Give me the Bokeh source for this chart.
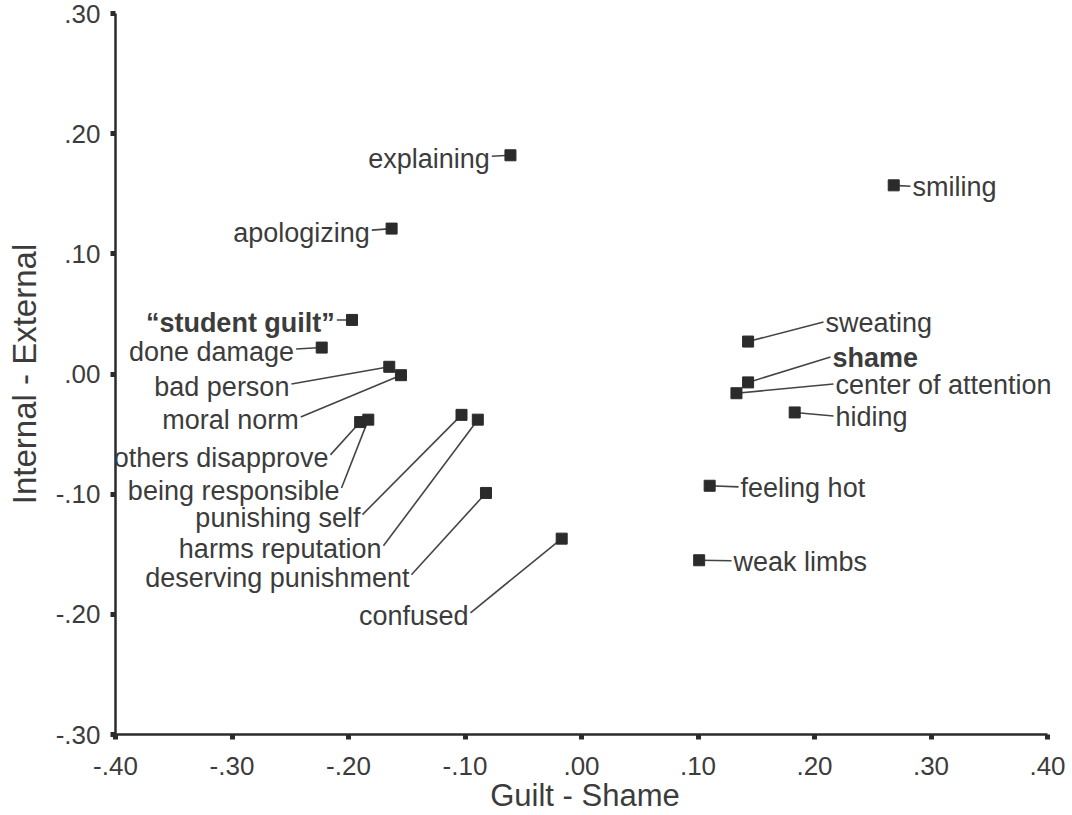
from bokeh.plotting import figure
from bokeh.models import Range1d, FixedTicker, CustomJSTickFormatter, ColumnDataSource, LabelSet
from bokeh.core.properties import value
from bokeh.embed import file_html
from bokeh.resources import INLINE

# ---- data ----
names = ["explaining", "apologizing", "\u201cstudent guilt\u201d", "done damage", "bad person",
         "moral norm", "others disapprove", "being responsible", "punishing self",
         "harms reputation", "deserving punishment", "confused",
         "smiling", "sweating", "shame", "center of attention", "hiding",
         "feeling hot", "weak limbs"]
guilt_shame = [-0.061, -0.163, -0.197, -0.223, -0.165, -0.155, -0.190, -0.183, -0.103,
               -0.089, -0.082, -0.017, 0.268, 0.143, 0.143, 0.133, 0.183, 0.110, 0.101]
internal_external = [0.182, 0.121, 0.045, 0.022, 0.006, -0.001, -0.040, -0.038, -0.034,
                     -0.038, -0.099, -0.137, 0.157, 0.027, -0.007, -0.016, -0.032, -0.093, -0.155]
# label anchor (end of the leader line), in data units
label_x = [-0.077, -0.180, -0.210, -0.245, -0.249, -0.241, -0.2155, -0.206, -0.188,
           -0.170, -0.146, -0.0953, 0.2824, 0.2077, 0.2137, 0.2163, 0.2163, 0.1348, 0.1288]
label_y = [0.1812, 0.1197, 0.0449, 0.0208, -0.0083, -0.0357, -0.0673, -0.0948, -0.117,
           -0.143, -0.167, -0.1987, 0.1563, 0.0432, 0.0141, -0.0083, -0.0349, -0.0939, -0.1554]
label_side = ["left"] * 12 + ["right"] * 7
bold_labels = ["\u201cstudent guilt\u201d", "shame"]

x_ticks = [-0.4, -0.3, -0.2, -0.1, 0.0, 0.1, 0.2, 0.3, 0.4]
y_ticks = [-0.3, -0.2, -0.1, 0.0, 0.1, 0.2, 0.3]

FONT = "Liberation Sans"
TXT = "#3c3c3c"
INK = "#2b2b2b"

# the frame reaches a little past .40 so that long labels are not clipped;
# the axis line itself stops at .40 (bounds)
p = figure(width=1072, height=815, output_backend="svg", toolbar_location=None,
           x_range=Range1d(-0.40, 0.406), y_range=Range1d(-0.30, 0.30),
           min_border_left=115, min_border_right=18, min_border_top=13, min_border_bottom=80)
p.outline_line_color = None
p.grid.grid_line_color = None
p.background_fill_color = "white"
p.border_fill_color = "white"

fmt = CustomJSTickFormatter(code="""
if (Math.abs(tick) < 1e-9) { return '.00'; }
return tick.toFixed(2).replace(/^(-?)0\\./, '$1.');
""")

p.xaxis.ticker = FixedTicker(ticks=x_ticks)
p.yaxis.ticker = FixedTicker(ticks=y_ticks)
p.xaxis.bounds = (x_ticks[0], x_ticks[-1])
for ax in (p.xaxis, p.yaxis):
    ax.formatter = fmt
    ax.axis_line_color = INK
    ax.axis_line_width = 2.5
    ax.major_tick_line_color = INK
    ax.major_tick_line_width = 5
    ax.major_tick_out = 5
    ax.major_tick_in = 0
    ax.minor_tick_line_color = None
    ax.major_label_text_font = FONT
    ax.major_label_text_font_size = "26px"
    ax.major_label_text_color = TXT
    ax.axis_label_text_font = FONT
    ax.axis_label_text_font_style = "normal"
    ax.axis_label_text_color = TXT

p.xaxis.axis_label = "Guilt - Shame"
p.yaxis.axis_label = "Internal - External"
p.xaxis.axis_label_text_font_size = "31px"
p.yaxis.axis_label_text_font_size = "33px"
p.xaxis.major_label_standoff = 17
p.xaxis.axis_label_standoff = 0
p.yaxis.major_label_standoff = 10
p.yaxis.axis_label_standoff = 10

# leader lines
p.segment(x0=guilt_shame, y0=internal_external, x1=label_x, y1=label_y,
          line_color="#444444", line_width=1.6)

# markers
p.scatter(guilt_shame, internal_external, marker="square", size=11,
          fill_color=INK, line_color=INK)

# labels
for side in ("left", "right"):
    for is_bold in (False, True):
        idx = [i for i in range(len(names))
               if label_side[i] == side and ((names[i] in bold_labels) == is_bold)]
        if not idx:
            continue
        src = ColumnDataSource(dict(x=[label_x[i] for i in idx],
                                    y=[label_y[i] for i in idx],
                                    t=[names[i] for i in idx]))
        p.add_layout(LabelSet(x="x", y="y", text="t", source=src,
                              text_align="right" if side == "left" else "left",
                              text_baseline="middle",
                              x_offset=-2 if side == "left" else 2,
                              y_offset=-3 if side == "left" else -1,
                              text_font=value(FONT), text_font_size=value("27px"),
                              text_font_style=value("bold" if is_bold else "normal"),
                              text_color=TXT))

open("out.html", "w").write(file_html(p, INLINE))
